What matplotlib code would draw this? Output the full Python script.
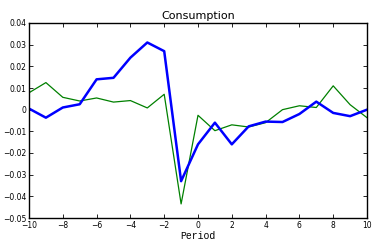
import matplotlib
matplotlib.use("Agg")
import matplotlib.pyplot as plt
import numpy as np

periods = list(range(-10, 11))
blue_series = [0.0005, -0.0037, 0.001, 0.0025, 0.014, 0.0147, 0.024, 0.031, 0.027, -0.033,
               -0.016, -0.006, -0.016, -0.0077, -0.0055, -0.0057, -0.002, 0.0037, -0.0015, -0.003, 0.0]
green_series = [0.0078, 0.0125, 0.0057, 0.004, 0.0054, 0.0035, 0.0042, 0.0008, 0.0071, -0.0435,
                -0.0026, -0.0097, -0.007, -0.008, -0.006, 0.0, 0.0018, 0.001, 0.011, 0.0023, -0.0037]
xticks = list(range(-10, 11, 2))
yticks = [-0.05, -0.04, -0.03, -0.02, -0.01, 0, 0.01, 0.02, 0.03, 0.04]
ytick_labels = ["\u22120.05", "\u22120.04", "\u22120.03", "\u22120.02", "\u22120.01", "0",
                "0.01", "0.02", "0.03", "0.04"]

fig = plt.figure(figsize=(3.72, 2.40), dpi=100)
ax = fig.add_axes([29/372, 1 - 218/240, 338/372, 195/240])

ax.plot(periods, green_series, color=(0, 0.5, 0), lw=0.9)
ax.plot(periods, blue_series, color=(0, 0, 1), lw=1.8)

ax.set_xlim(-10, 10)
ax.set_ylim(-0.05, 0.04)
ax.set_xticks(xticks)
ax.set_xticklabels([str(t).replace("-", "\u2212") for t in xticks])
ax.set_yticks(yticks)
ax.set_yticklabels(ytick_labels)
ax.tick_params(direction="in", top=True, right=True, labelsize=5.5, length=3, width=0.6, pad=2)
for s in ax.spines.values():
    s.set_linewidth(1.0)

ax.set_title("Consumption", fontsize=8, pad=3)
ax.set_xlabel("Period", fontsize=7, family="Liberation Mono", labelpad=1)

fig.savefig("out.png", dpi=100)
